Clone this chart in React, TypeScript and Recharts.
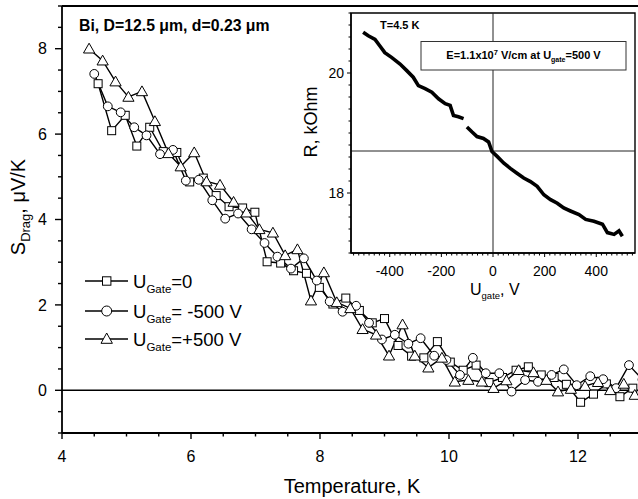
import React from 'react';
import { LineChart, Line, XAxis, YAxis, ReferenceLine, ReferenceArea } from 'recharts';

const FONT = '"Liberation Sans", Arial, Helvetica, sans-serif';

// U_Gate = 0 (squares)
const tempGate0 = [4.56, 4.77, 4.98, 5.16, 5.36, 5.57, 5.78, 5.98, 6.19, 6.39, 6.59, 6.80, 6.99, 7.18, 7.39, 7.59, 7.79, 7.99, 8.20, 8.40, 8.61, 8.81, 9.00, 9.21, 9.42, 9.61, 9.82, 10.02, 10.22, 10.42, 10.62, 10.83, 11.04, 11.23, 11.43, 11.63, 11.82, 12.04, 12.24, 12.44, 12.65, 12.85];
const sGate0 = [7.18, 6.08, 6.44, 5.72, 6.16, 5.59, 5.57, 4.88, 4.97, 4.56, 4.30, 4.27, 4.17, 3.01, 2.98, 2.80, 2.74, 2.41, 2.02, 2.16, 1.87, 1.58, 1.68, 1.05, 0.80, 0.76, 1.14, 0.66, 0.47, 0.59, 0.18, 0.30, 0.47, 0.55, 0.36, 0.30, 0.14, -0.28, -0.09, 0.15, -0.15, 0.05];

// U_Gate = -500 V (circles)
const tempGateNeg = [4.50, 4.71, 4.91, 5.12, 5.31, 5.52, 5.72, 5.92, 6.12, 6.33, 6.53, 6.73, 6.94, 7.14, 7.34, 7.55, 7.75, 7.95, 8.15, 8.35, 8.56, 8.76, 8.96, 9.16, 9.37, 9.56, 9.77, 9.96, 10.17, 10.37, 10.57, 10.78, 10.97, 11.18, 11.38, 11.59, 11.78, 11.98, 12.19, 12.39, 12.59, 12.79, 13.0];
const sGateNeg = [7.41, 6.65, 6.51, 6.16, 5.97, 5.53, 5.63, 4.91, 4.93, 4.45, 4.02, 4.14, 3.77, 3.45, 3.13, 2.85, 3.09, 2.57, 2.08, 1.84, 1.98, 1.58, 1.19, 1.30, 1.09, 1.22, 0.81, 0.71, 0.36, 0.76, 0.40, 0.40, -0.03, 0.24, 0.20, 0.36, 0.49, 0.12, 0.33, 0.26, 0.05, 0.59, 0.25];

// U_Gate = +500 V (triangles)
const tempGatePos = [4.42, 4.63, 4.83, 5.03, 5.24, 5.44, 5.65, 5.84, 6.05, 6.24, 6.45, 6.66, 6.86, 7.06, 7.27, 7.46, 7.65, 7.86, 8.06, 8.26, 8.47, 8.66, 8.87, 9.07, 9.28, 9.47, 9.68, 9.89, 10.09, 10.30, 10.51, 10.69, 10.89, 11.08, 11.31, 11.51, 11.69, 11.89, 12.11, 12.31, 12.50, 12.71, 12.88];
const sGatePos = [8.00, 7.72, 7.23, 6.87, 7.00, 6.30, 5.55, 5.24, 5.57, 4.89, 4.81, 4.41, 4.16, 3.77, 3.69, 3.16, 3.30, 2.10, 2.76, 2.06, 1.92, 1.43, 1.30, 0.81, 1.54, 0.81, 0.53, 0.76, 0.20, 0.24, 0.20, 0.05, 0.23, 0.47, 0.42, 0.24, -0.03, 0.03, 0.10, 0.19, 0.00, 0.15, -0.11];

// Inset: R vs U_gate at T = 4.5 K (null = gap in the record)
const insetU = [-503, -483, -457, -438, -419, -393, -360, -334, -309, -289, -263, -237, -211, -185, -166, -153, -134, -114, -108, -101, -82, -62, -37, -17, -4, 16, 41, 67, 93, 119, 145, 171, 197, 223, 249, 274, 300, 333, 359, 391, 424, 443, 469, 488, 501];
const insetR: (number | null)[] = [20.68, 20.62, 20.56, 20.45, 20.34, 20.26, 20.15, 20.04, 19.93, 19.79, 19.74, 19.68, 19.57, 19.49, 19.46, 19.29, 19.27, 19.24, null, 19.10, 19.02, 18.94, 18.91, 18.85, 18.69, 18.61, 18.50, 18.41, 18.33, 18.25, 18.19, 18.11, 17.97, 17.89, 17.83, 17.75, 17.70, 17.64, 17.56, 17.53, 17.48, 17.34, 17.31, 17.37, 17.28];
const insetRefR = 18.7;

// Ticks
const mainXTicks = [4, 4.5, 5, 5.5, 6, 6.5, 7, 7.5, 8, 8.5, 9, 9.5, 10, 10.5, 11, 11.5, 12, 12.5, 13];
const mainXLabels = [4, 6, 8, 10, 12];
const mainYTicks = [-1, -0.5, 0, 0.5, 1, 1.5, 2, 2.5, 3, 3.5, 4, 4.5, 5, 5.5, 6, 6.5, 7, 7.5, 8, 8.5, 9];
const mainYLabels = [0, 2, 4, 6, 8];
const insetXTicks = [-540, -520, -500, -480, -460, -440, -420, -400, -380, -360, -340, -320, -300, -280, -260, -240, -220, -200, -180, -160, -140, -120, -100, -80, -60, -40, -20, 0, 20, 40, 60, 80, 100, 120, 140, 160, 180, 200, 220, 240, 260, 280, 300, 320, 340, 360, 380, 400, 420, 440, 460, 480, 500, 520, 540];
const insetXLabels = [-400, -200, 0, 200, 400];
const insetYTicks = [17, 17.2, 17.4, 17.6, 17.8, 18, 18.2, 18.4, 18.6, 18.8, 19, 19.2, 19.4, 19.6, 19.8, 20, 20.2, 20.4, 20.6, 20.8, 21];
const insetYLabels = [18, 20];

const zip = (xs: number[], ys: (number | null)[], kx: string, ky: string) =>
  xs.map((x, i) => ({ [kx]: x, [ky]: ys[i] }));

const dataGate0 = zip(tempGate0, sGate0, 't', 's');
const dataGateNeg = zip(tempGateNeg, sGateNeg, 't', 's');
const dataGatePos = zip(tempGatePos, sGatePos, 't', 's');
const dataInset = zip(insetU, insetR, 'u', 'r');

const near = (v: number, list: number[]) => list.some((a) => Math.abs(a - v) < 1e-6);

const makeBottomTick = (labels: number[], longLen: number, shortLen: number, fontSize: number, labelDy: number, sw: number) =>
  (props: any) => {
    const { x, y, payload } = props;
    const v = payload.value;
    const lab = near(v, labels);
    const len = lab ? longLen : shortLen;
    return (
      <g>
        <line x1={x} x2={x} y1={y} y2={y + len} stroke="#000" strokeWidth={sw} />
        {lab && (
          <text x={x} y={y + labelDy} textAnchor="middle" fontSize={fontSize} fontFamily={FONT} fill="#000">
            {String(v)}
          </text>
        )}
      </g>
    );
  };

const makeLeftTick = (labels: number[], longLen: number, shortLen: number, fontSize: number, labelDx: number, sw: number) =>
  (props: any) => {
    const { x, y, payload } = props;
    const v = payload.value;
    const lab = near(v, labels);
    const len = lab ? longLen : shortLen;
    return (
      <g>
        <line x1={x - len} x2={x} y1={y} y2={y} stroke="#000" strokeWidth={sw} />
        {lab && (
          <text x={x - labelDx} y={y + fontSize * 0.36} textAnchor="end" fontSize={fontSize} fontFamily={FONT} fill="#000">
            {String(v)}
          </text>
        )}
      </g>
    );
  };

const SquareDot = (props: any) => {
  const { cx, cy, index } = props;
  if (cx == null || cy == null) return <g key={`sq-${index}`} />;
  return <rect key={`sq-${index}`} x={cx - 4} y={cy - 4} width={8} height={8} fill="#fff" stroke="#000" strokeWidth={1} />;
};
const CircleDot = (props: any) => {
  const { cx, cy, index } = props;
  if (cx == null || cy == null) return <g key={`ci-${index}`} />;
  return <circle key={`ci-${index}`} cx={cx} cy={cy} r={4.4} fill="#fff" stroke="#000" strokeWidth={1} />;
};
const TriDot = (props: any) => {
  const { cx, cy, index } = props;
  if (cx == null || cy == null) return <g key={`tr-${index}`} />;
  return (
    <polygon
      key={`tr-${index}`}
      points={`${cx},${cy - 5.5} ${cx - 5.6},${cy + 4.3} ${cx + 5.6},${cy + 4.3}`}
      fill="#fff"
      stroke="#000"
      strokeWidth={1}
    />
  );
};

const LegendRow = ({ y, marker, text }: { y: number; marker: 'sq' | 'ci' | 'tr'; text: string }) => (
  <g>
    <line x1={85} x2={128} y1={y} y2={y} stroke="#000" strokeWidth={1.3} />
    {marker === 'sq' && <rect x={102.5} y={y - 4.2} width={8.4} height={8.4} fill="#fff" stroke="#000" />}
    {marker === 'ci' && <circle cx={106.7} cy={y} r={5} fill="#fff" stroke="#000" />}
    {marker === 'tr' && <polygon points={`106.7,${y - 6} 101,${y + 4.3} 112.4,${y + 4.3}`} fill="#fff" stroke="#000" />}
    <text x={133} y={y + 7} fontSize={18.5} fontFamily={FONT} fill="#000">
      U
      <tspan fontSize={11.5} dy={5}>Gate</tspan>
      <tspan dy={-5}>{text}</tspan>
    </text>
  </g>
);

export default function App() {
  return (
    <div style={{ position: 'absolute', left: 0, top: 0, width: 638, height: 499, overflow: 'hidden', background: '#fff' }}>
      <div style={{ position: 'absolute', left: 0, top: 0 }}>
        <LineChart width={650} height={499} margin={{ top: 6, right: 7.5, bottom: 0, left: 0 }}>
          <XAxis
            dataKey="t"
            type="number"
            domain={[4, 13]}
            allowDataOverflow
            ticks={mainXTicks}
            interval={0}
            tickSize={0}
            tickMargin={0}
            tickLine={false}
            height={66}
            axisLine={{ stroke: '#000', strokeWidth: 1.8 }}
            tick={makeBottomTick(mainXLabels, 6, 3.5, 16, 29, 1.4)}
          />
          <YAxis
            type="number"
            domain={[-1, 9]}
            allowDataOverflow
            ticks={mainYTicks}
            interval={0}
            tickSize={0}
            tickMargin={0}
            tickLine={false}
            width={62}
            axisLine={{ stroke: '#000', strokeWidth: 1.8 }}
            tick={makeLeftTick(mainYLabels, 7, 4, 16, 15, 1.4)}
          />
          <ReferenceLine y={9} stroke="#000" strokeWidth={1.8} />
          <ReferenceLine y={0} stroke="#000" strokeWidth={1.5} />
          <Line data={dataGate0} dataKey="s" stroke="#000" strokeWidth={1.4} dot={SquareDot} isAnimationActive={false} />
          <Line data={dataGateNeg} dataKey="s" stroke="#000" strokeWidth={1.4} dot={CircleDot} isAnimationActive={false} />
          <Line data={dataGatePos} dataKey="s" stroke="#000" strokeWidth={1.4} dot={TriDot} isAnimationActive={false} />
        </LineChart>
      </div>
      <div style={{ position: 'absolute', left: 290, top: 0 }}>
        <LineChart width={348} height={310} data={dataInset} margin={{ top: 13, right: 3, bottom: 0, left: 0 }}>
          <ReferenceArea x1={-550} x2={550} y1={17} y2={21} fill="#fff" fillOpacity={1} stroke="#000" strokeWidth={1.4} />
          <XAxis
            dataKey="u"
            type="number"
            domain={[-550, 550]}
            allowDataOverflow
            ticks={insetXTicks}
            interval={0}
            tickSize={0}
            tickMargin={0}
            tickLine={false}
            height={57}
            axisLine={{ stroke: '#000', strokeWidth: 1.4 }}
            tick={makeBottomTick(insetXLabels, 4, 2.5, 14, 23, 1)}
          />
          <YAxis
            type="number"
            domain={[17, 21]}
            allowDataOverflow
            ticks={insetYTicks}
            interval={0}
            tickSize={0}
            tickMargin={0}
            tickLine={false}
            width={61}
            axisLine={{ stroke: '#000', strokeWidth: 1.4 }}
            tick={makeLeftTick(insetYLabels, 4, 2.5, 14, 7, 1)}
          />
          <ReferenceLine x={0} stroke="#222" strokeWidth={1} />
          <ReferenceLine y={insetRefR} stroke="#222" strokeWidth={1} />
          <Line dataKey="r" stroke="#000" strokeWidth={3.6} strokeLinejoin="miter" dot={false} connectNulls={false} isAnimationActive={false} />
        </LineChart>
      </div>
      <svg width={638} height={499} style={{ position: 'absolute', left: 0, top: 0, pointerEvents: 'none' }}>
        <text x={79} y={31} fontSize={15.8} fontWeight="bold" fontFamily={FONT} fill="#000">
          Bi, D=12.5 μm, d=0.23 μm
        </text>
        <text x={352} y={493} textAnchor="middle" fontSize={20} fontFamily={FONT} fill="#000">
          Temperature, K
        </text>
        <text x={25} y={207} transform="rotate(-90 25 207)" textAnchor="middle" fontSize={20} fontFamily={FONT} fill="#000">
          S<tspan fontSize={13} dy={5}>Drag</tspan>
          <tspan dy={-5}>, μV/K</tspan>
        </text>
        <LegendRow y={281} marker="sq" text="=0" />
        <LegendRow y={311} marker="ci" text="= -500 V" />
        <LegendRow y={339} marker="tr" text="=+500 V" />
        <text x={380} y={29} fontSize={11} fontWeight="bold" fontFamily={FONT} fill="#000">
          T=4.5 K
        </text>
        <rect x={421} y={41.5} width={205} height={28.5} fill="#fff" stroke="#333" strokeWidth={1} />
        <text x={523.5} y={59} textAnchor="middle" fontSize={11} fontWeight="bold" fontFamily={FONT} fill="#000">
          E=1.1x10<tspan fontSize={7.5} dy={-4}>7</tspan>
          <tspan dy={4}> V/cm at U</tspan>
          <tspan fontSize={7} dy={3}>gate</tspan>
          <tspan dy={-3}>=500 V</tspan>
        </text>
        <text x={470} y={295} fontSize={16} fontFamily={FONT} fill="#000">
          U<tspan fontSize={9.5} dy={4}>gate</tspan>
          <tspan dy={-4}>, V</tspan>
        </text>
        <text x={317} y={122} transform="rotate(-90 317 122)" textAnchor="middle" fontSize={18} fontFamily={FONT} fill="#000">
          R, kOhm
        </text>
      </svg>
    </div>
  );
}
